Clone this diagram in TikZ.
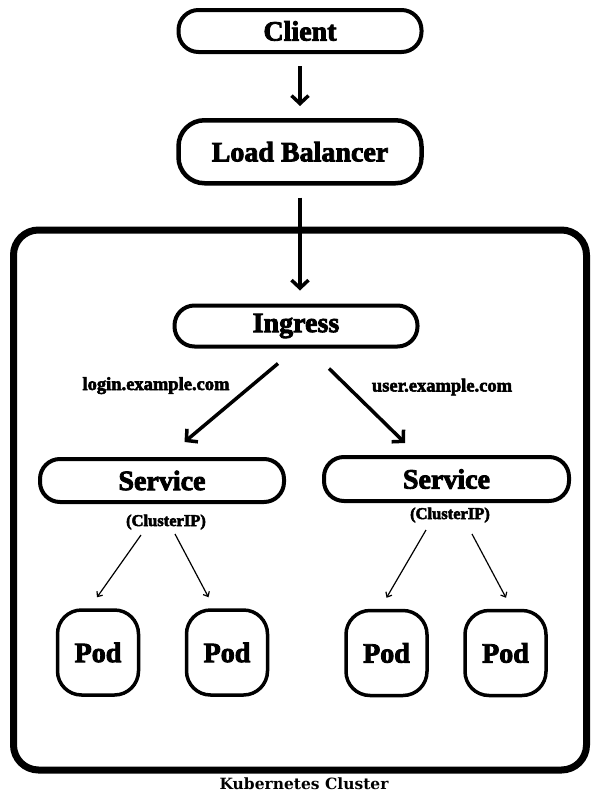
\documentclass[tikz,border=0pt]{standalone}
\usepackage{fontspec}
\setmainfont{Liberation Serif}
\newfontfamily\heavyfont{Liberation Serif}[BoldFeatures={FakeBold=3}]
\newfontfamily\clusterfont{DejaVu Serif}
\usepackage{tikz}
\usetikzlibrary{positioning, arrows.meta}

\begin{document}
\begin{tikzpicture}[
        x=1pt, y=-1pt,
        node distance=64pt,
        pill/.style={rectangle, draw, line width=4pt, rounded corners=20pt,
                     minimum width=243pt, minimum height=42pt, inner sep=0pt,
                     font=\heavyfont\bfseries\fontsize{28}{30}\selectfont},
        podbox/.style={rectangle, draw, line width=3.5pt, rounded corners=24pt,
                       minimum width=81pt, minimum height=85pt, inner sep=0pt,
                       font=\heavyfont\bfseries\fontsize{28}{30}\selectfont},
        clusterbox/.style={rectangle, draw, line width=7pt, rounded corners=25pt,
                           minimum width=573pt, minimum height=540pt},
        hostlabel/.style={anchor=base, inner sep=0pt,
                          font=\heavyfont\bfseries\fontsize{18.5}{20}\selectfont},
        iplabel/.style={anchor=base, inner sep=0pt,
                        font=\heavyfont\bfseries\fontsize{16.5}{18}\selectfont},
        bigarrow/.style={-{Straight Barb[length=8pt, width=17pt]}, line width=3.5pt},
        thinarrow/.style={-{Straight Barb[length=4pt, width=7pt]}, line width=1.2pt}
    ]

    \useasboundingbox (0,0) rectangle (602,806);

    %% Outside the cluster
    \node[pill] (client) at (300,31) {Client};
    \node[pill, minimum height=63pt, rounded corners=26pt, line width=4.5pt,
          below=of client] (lb) {Load Balancer};
    \draw[bigarrow, shorten <=12pt, shorten >=12pt] (client) -- (lb);

    %% Kubernetes cluster
    \node[clusterbox] (cluster) at (300,500) {};
    \node[font=\clusterfont\bfseries\fontsize{15.5}{17}\selectfont, inner sep=0pt]
          (clusterlabel) at (304,784) {Kubernetes Cluster};

    \node[pill, minimum height=41pt, below=118pt of lb, xshift=-4pt] (ingress) {Ingress};
    \draw[bigarrow, shorten <=12pt, shorten >=13pt] (lb) -- (lb |- ingress.north);

    \node[pill, minimum width=244pt, minimum height=43pt] (svcl) at (162,480.5) {Service};
    \node[pill, minimum width=245pt, minimum height=44pt] (svcr) at (446.5,479) {Service};
    \draw[bigarrow] ([xshift=-18pt, yshift=-15pt]ingress.south)
                 -- ([xshift=22.5pt, yshift=15pt]svcl.north);
    \draw[bigarrow] ([xshift=33pt, yshift=-20pt]ingress.south)
                 -- ([xshift=-41.5pt, yshift=12pt]svcr.north);
    \node[hostlabel] (loginhost) at (156,390) {login.example.com};
    \node[hostlabel] (userhost) at (442,391.5) {user.example.com};

    \node[iplabel] (cipl) at (166,526) {(ClusterIP)};
    \node[iplabel] (cipr) at (450,519) {(ClusterIP)};

    %% Pods
    \node[podbox] (pod1) at (98,652.5) {Pod};
    \node[podbox] (pod2) at (227,652.5) {Pod};
    \node[podbox] (pod3) at (386.5,653) {Pod};
    \node[podbox] (pod4) at (505.5,653) {Pod};

    \draw[thinarrow] ([xshift=-21pt, yshift=-31pt]svcl.south)
                  -- ([xshift=-1pt, yshift=11pt]pod1.north);
    \draw[thinarrow] ([xshift=13pt, yshift=-30pt]svcl.south)
                  -- ([xshift=-18.5pt, yshift=11pt]pod2.north);
    \draw[thinarrow] ([xshift=-20.5pt, yshift=-27pt]svcr.south)
                  -- ([xshift=0pt, yshift=11pt]pod3.north);
    \draw[thinarrow] ([xshift=25.5pt, yshift=-31pt]svcr.south)
                  -- ([xshift=0.5pt, yshift=11pt]pod4.north);

\end{tikzpicture}
\end{document}
